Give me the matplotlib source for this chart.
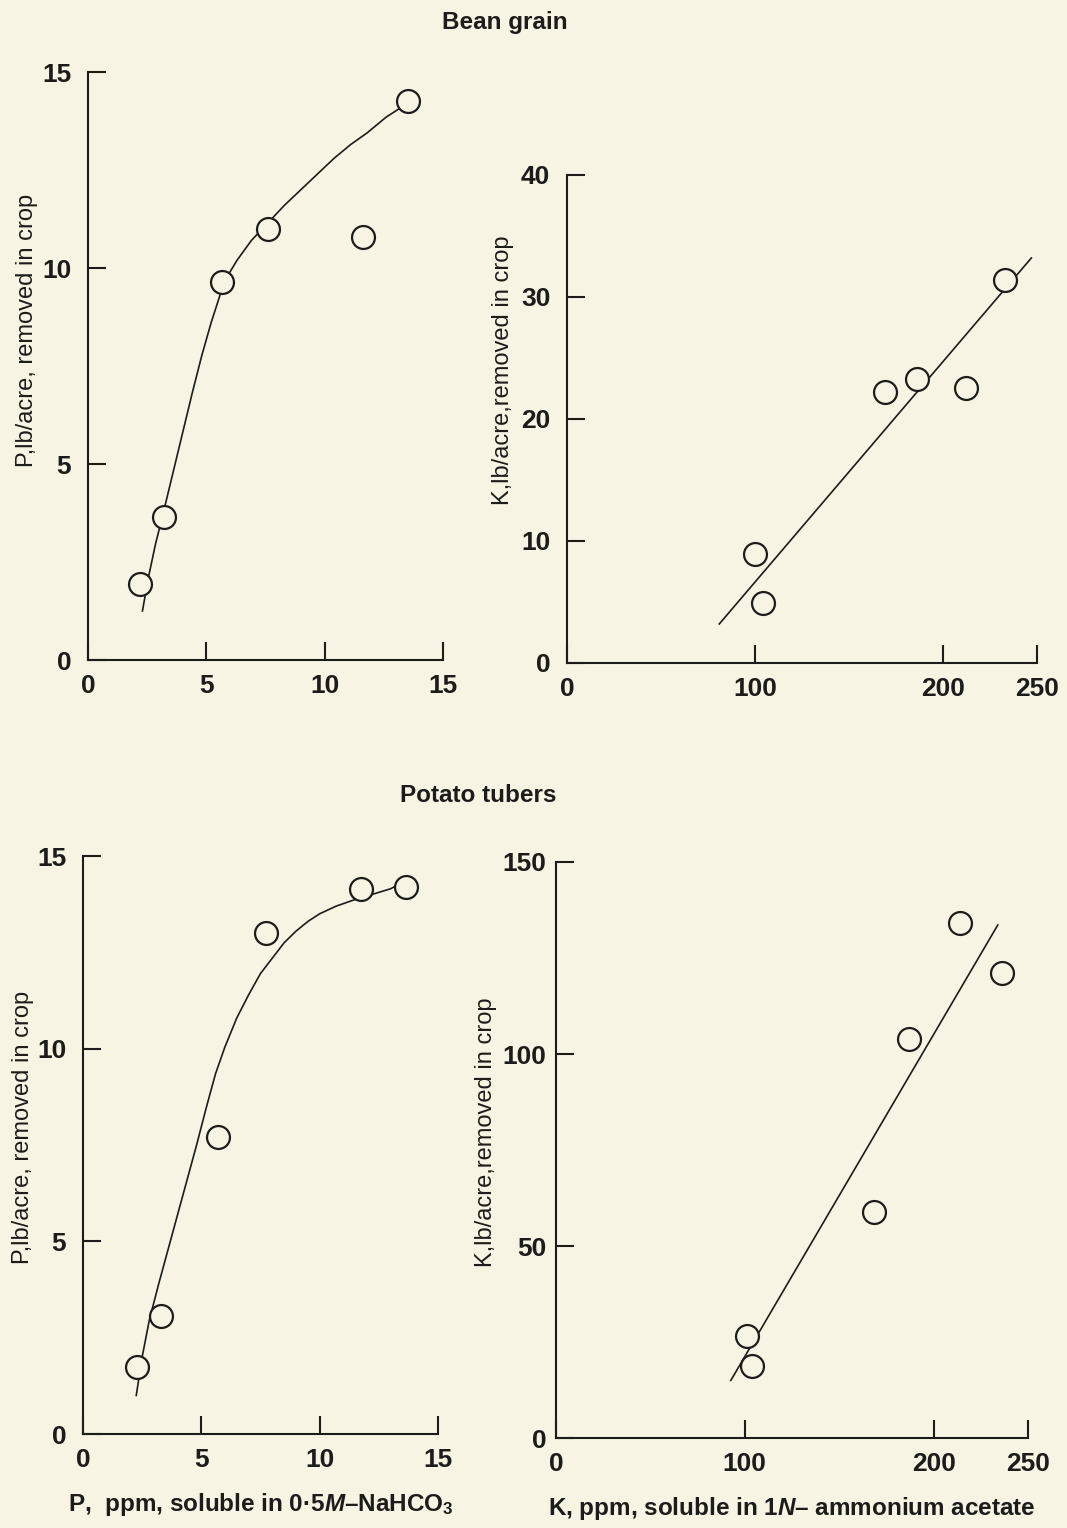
import numpy as np
import matplotlib.pyplot as plt

plt.rcParams['font.family'] = ['Liberation Sans', 'DejaVu Sans']
plt.rcParams['mathtext.fontset'] = 'custom'
plt.rcParams['mathtext.rm'] = 'Liberation Sans:bold'
plt.rcParams['mathtext.it'] = 'Liberation Sans:italic:bold'

# ---- data ----
# Bean grain, P
bean_p_x = [2.2, 3.2, 5.65, 7.6, 11.6, 13.5]
bean_p_y = [1.95, 3.65, 9.65, 11.0, 10.8, 14.25]
bean_p_curve_x = [2.3, 2.55, 2.85, 3.2, 3.6, 4.0, 4.4, 4.8, 5.2, 5.6, 5.9, 6.3, 6.9,
                  7.6, 8.3, 9.0, 9.7, 10.4, 11.1, 11.8, 12.6, 13.5]
bean_p_curve_y = [1.25, 2.1, 2.95, 3.8, 4.8, 5.8, 6.8, 7.75, 8.6, 9.35, 9.8, 10.2, 10.7,
                  11.15, 11.6, 12.0, 12.4, 12.8, 13.15, 13.45, 13.85, 14.2]

# Bean grain, K
bean_k_x = [100, 104, 169, 186, 212, 233]
bean_k_y = [8.9, 4.9, 22.2, 23.3, 22.5, 31.4]
bean_k_line_x = [81, 247]
bean_k_line_y = [3.2, 33.2]

# Potato tubers, P
pot_p_x = [2.3, 3.3, 5.7, 7.75, 11.75, 13.65]
pot_p_y = [1.75, 3.05, 7.7, 13.0, 14.15, 14.2]
pot_p_curve_x = [2.25, 2.5, 2.8, 3.2, 3.6, 4.0, 4.4, 4.8, 5.2, 5.6, 6.0, 6.5, 7.0, 7.5,
                 8.0, 8.5, 9.0, 9.5, 10.0, 10.7, 11.4, 12.2, 13.0, 13.3]
pot_p_curve_y = [1.0, 2.0, 2.95, 3.9, 4.8, 5.7, 6.6, 7.5, 8.45, 9.35, 10.05, 10.8, 11.4, 11.95,
                 12.35, 12.75, 13.05, 13.3, 13.5, 13.7, 13.85, 14.0, 14.15, 14.25]

# Potato tubers, K
pot_k_x = [101, 104, 168.5, 187, 214, 236]
pot_k_y = [26.5, 18.8, 58.8, 104, 134, 121]
pot_k_line_x = [92.6, 234]
pot_k_line_y = [15.0, 133.6]

p_ticks = [0, 5, 10, 15]
k_xticks = [0, 100, 200, 250]
bean_k_yticks = [0, 10, 20, 30, 40]
pot_k_yticks = [0, 50, 100, 150]

W, H = 1067, 1528
bg = '#f8f4e3'
ink = '#1c1c1c'

fig = plt.figure(figsize=(W / 100, H / 100), dpi=100, facecolor=bg)


def make_ax(left, right, top, bottom, ypad=12):
    ax = fig.add_axes([left / W, 1 - bottom / H, (right - left) / W, (bottom - top) / H])
    ax.set_facecolor('none')
    for s in ['top', 'right']:
        ax.spines[s].set_visible(False)
    for s in ['left', 'bottom']:
        ax.spines[s].set_linewidth(1.5)
        ax.spines[s].set_color(ink)
    ax.tick_params(direction='in', length=13, width=1.5, colors=ink, labelsize=19)
    ax.tick_params(axis='y', pad=ypad)
    ax.tick_params(axis='x', pad=10)
    return ax


def draw(ax, x, y, cx, cy):
    ax.plot(cx, cy, color=ink, lw=1.2, zorder=2)
    ax.plot(x, y, 'o', ms=16.5, mfc=bg, mec=ink, mew=1.6, zorder=3, clip_on=False)


def bold_ticks(ax):
    for lab in ax.get_xticklabels() + ax.get_yticklabels():
        lab.set_fontweight('bold')


# top left
ax1 = make_ax(88, 443, 72, 660)
draw(ax1, bean_p_x, bean_p_y, bean_p_curve_x, bean_p_curve_y)
ax1.set_xlim(0, 15)
ax1.set_ylim(0, 15)
ax1.set_xticks(p_ticks)
ax1.set_yticks(p_ticks)
ax1.set_ylabel('P,lb/acre, removed in crop', fontsize=17, color=ink)
ax1.yaxis.set_label_coords(-0.141, 0.56)
bold_ticks(ax1)

# top right
ax2 = make_ax(567, 1037, 175, 663)
draw(ax2, bean_k_x, bean_k_y, bean_k_line_x, bean_k_line_y)
ax2.set_xlim(0, 250)
ax2.set_ylim(0, 40)
ax2.set_xticks(k_xticks)
ax2.set_yticks(bean_k_yticks)
ax2.set_ylabel('K,lb/acre,removed in crop', fontsize=17, color=ink)
ax2.yaxis.set_label_coords(-0.113, 0.6)
bold_ticks(ax2)

# bottom left
ax3 = make_ax(83, 438, 856, 1434)
draw(ax3, pot_p_x, pot_p_y, pot_p_curve_x, pot_p_curve_y)
ax3.set_xlim(0, 15)
ax3.set_ylim(0, 15)
ax3.set_xticks(p_ticks)
ax3.set_yticks(p_ticks)
ax3.set_ylabel('P,lb/acre, removed in crop', fontsize=17, color=ink)
ax3.yaxis.set_label_coords(-0.138, 0.53)
ax3.set_xlabel(r'P,  ppm, soluble in 0·5$M$–NaHCO$_3$', fontsize=17.5, fontweight='bold',
               color=ink, labelpad=14)
bold_ticks(ax3)

# bottom right
ax4 = make_ax(556, 1028, 862, 1438, ypad=7)
draw(ax4, pot_k_x, pot_k_y, pot_k_line_x, pot_k_line_y)
ax4.set_xlim(0, 250)
ax4.set_ylim(0, 150)
ax4.set_xticks(k_xticks)
ax4.set_yticks(pot_k_yticks)
ax4.set_ylabel('K,lb/acre,removed in crop', fontsize=17, color=ink)
ax4.yaxis.set_label_coords(-0.125, 0.53)
ax4.set_xlabel(r'K, ppm, soluble in 1$N$– ammonium acetate', fontsize=17.5, fontweight='bold',
               color=ink, labelpad=14)
bold_ticks(ax4)

fig.text(505 / W, 1 - 22 / H, 'Bean grain', fontsize=17.5, fontweight='bold', color=ink,
         ha='center', va='center')
fig.text(478 / W, 1 - 796 / H, 'Potato tubers', fontsize=17.5, fontweight='bold', color=ink,
         ha='center', va='center')

fig.savefig('out.png', dpi=100, facecolor=bg)
